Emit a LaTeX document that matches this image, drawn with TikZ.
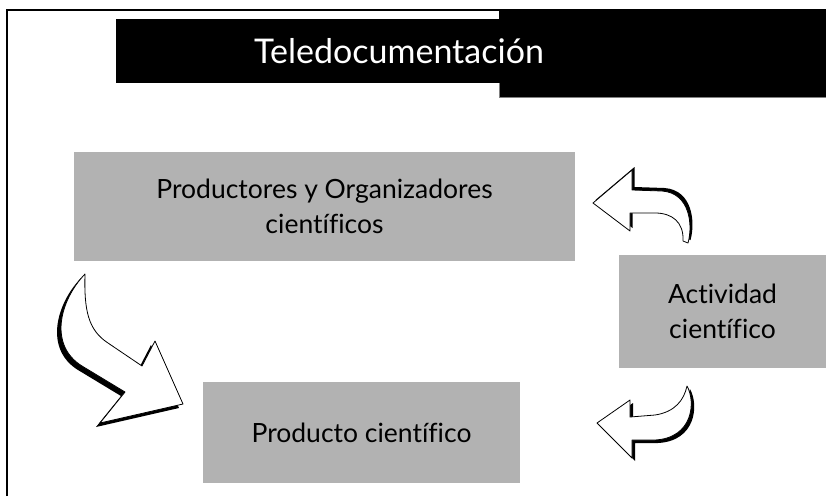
\documentclass[tikz,border=0pt]{standalone}
\usepackage{fontspec}
\setmainfont[Ligatures=NoCommon]{Lato}
\definecolor{boxgray}{RGB}{178,178,178}
\tikzset{
	box/.style={fill=boxgray, align=center, inner sep=0pt, font=\fontsize{26.5}{35}\selectfont},
	bent/.style={draw=black, fill=white, line width=0.8pt, line join=round,
		preaction={fill=black, transform canvas={shift={#1}}}},
}
\begin{document}
\begin{tikzpicture}[x=1pt,y=-1pt]
		\useasboundingbox (0,0) rectangle (826,496);
		% frame and title
		\draw [line width=2pt] (7,496) -- (7,10) -- (499,10);
		\fill (499,9) rectangle (826,97);
		\draw [gray, line width=1pt] (499,83) -- (499,97) -- (826,97);
		\fill (116,19) rectangle (499,83);
		\node [text=white, font=\fontsize{34}{40}\selectfont] (title) at (399,51) {Teledocumentación};
		% boxes
		\node [box, minimum width=501pt, minimum height=109pt] (organiz) at (324.5,206.5) {Productores y Organizadores\\científicos};
		\node [box, minimum width=207pt, minimum height=113pt] (activ) at (722.5,311.5) {Actividad\\científico};
		\node [box, minimum width=317pt, minimum height=101pt] (product) at (361.5,432.5) {Producto científico};
		% bent arrows
		\path [bent={(2.5,-3)}]
		(593,203) -- (632,170) -- (632,190) -- (662,191)
		.. controls (690,193) and (693,225) .. (688,243) -- (683,241)
		.. controls (684,222) and (672,213) .. (655,213) -- (630,213) -- (630,231) -- cycle;
		\path [bent={(-4,4)}]
		(85,274) .. controls (60,300) and (48,345) .. (82,366) -- (125,392) -- (100,423)
		-- (183,404) -- (155,341) -- (142,366) -- (108,343)
		.. controls (88,330) and (84,310) .. (85,274) -- cycle;
		\path [bent={(3,3)}]
		(597,423) -- (630,400) -- (630,417) -- (655,415)
		.. controls (675,412) and (684,400) .. (687,386)
		.. controls (696,402) and (693,438) .. (655,440) -- (632,440) -- (632,458) -- cycle;
	\end{tikzpicture}
\end{document}
